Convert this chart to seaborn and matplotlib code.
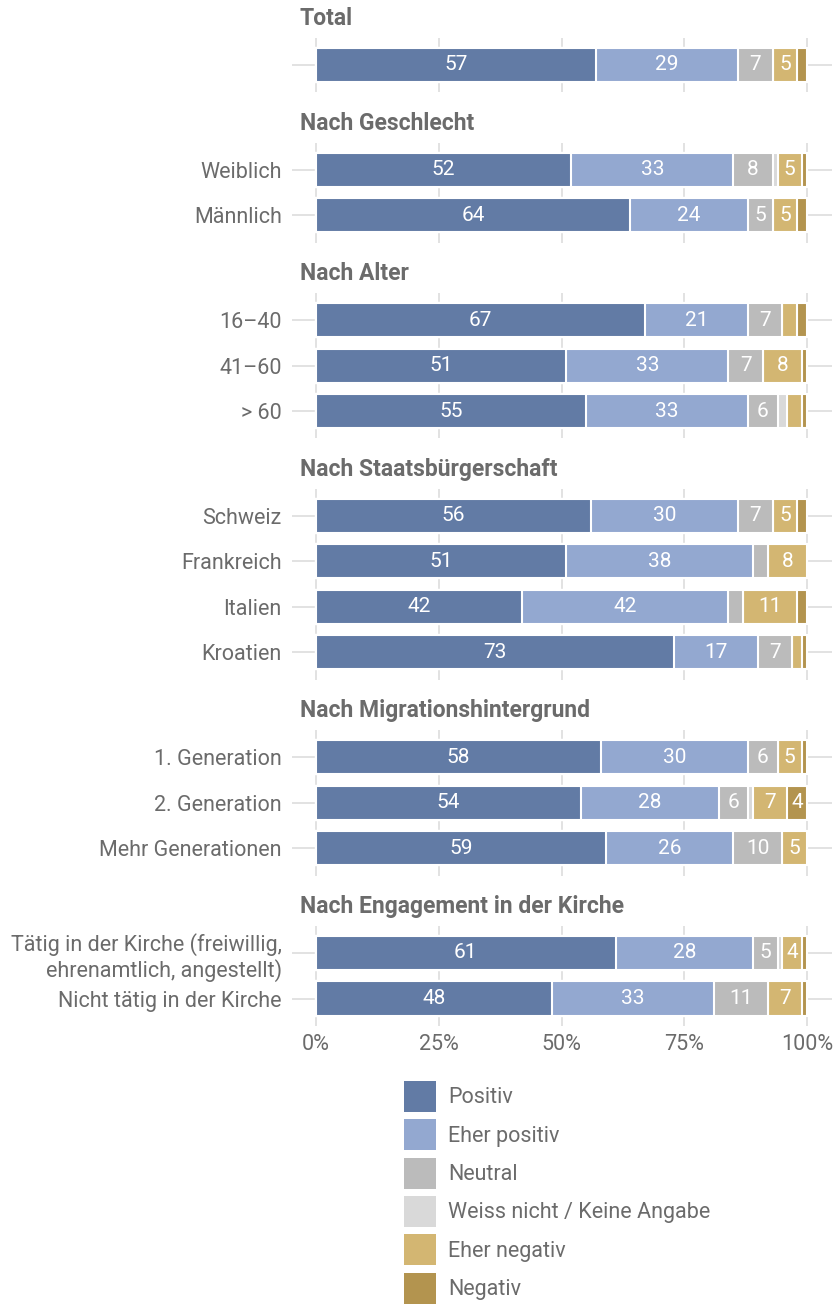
import numpy as np
import pandas as pd
import matplotlib
matplotlib.use("Agg")
import matplotlib.pyplot as plt
from matplotlib.patches import Patch
import seaborn as sns

# --- data -------------------------------------------------------------
group_titles = ["Total", "Nach Geschlecht", "Nach Alter", "Nach Staatsbürgerschaft",
                "Nach Migrationshintergrund", "Nach Engagement in der Kirche"]
group_sizes = [1, 2, 3, 4, 3, 2]

rows = ["Total", "Weiblich", "Männlich", "16–40", "41–60", "> 60",
        "Schweiz", "Frankreich", "Italien", "Kroatien",
        "1. Generation", "2. Generation", "Mehr Generationen",
        "Tätig in der Kirche (freiwillig,\nehrenamtlich, angestellt)",
        "Nicht tätig in der Kirche"]

answers = ["Positiv", "Eher positiv", "Neutral", "Weiss nicht / Keine Angabe",
           "Eher negativ", "Negativ"]

positiv      = [57, 52, 64, 67, 51, 55, 56, 51, 42, 73, 58, 54, 59, 61, 48]
eher_positiv = [29, 33, 24, 21, 33, 33, 30, 38, 42, 17, 30, 28, 26, 28, 33]
neutral      = [7, 8, 5, 7, 7, 6, 7, 3, 3, 7, 6, 6, 10, 5, 11]
weiss_nicht  = [0, 1, 0, 0, 0, 2, 0, 0, 0, 0, 0, 1, 0, 1, 0]
eher_negativ = [5, 5, 5, 3, 8, 3, 5, 8, 11, 2, 5, 7, 5, 4, 7]
negativ      = [2, 1, 2, 2, 1, 1, 2, 0, 2, 1, 1, 4, 0, 1, 1]

colors = ["#627ba5", "#93a8d0", "#bbbbbb", "#d9d9d9", "#d3b672", "#b3944f"]

df = pd.DataFrame({"row": rows, "Positiv": positiv, "Eher positiv": eher_positiv,
                   "Neutral": neutral, "Weiss nicht / Keine Angabe": weiss_nicht,
                   "Eher negativ": eher_negativ, "Negativ": negativ})
df["group"] = np.repeat(group_titles, group_sizes)

# --- style ------------------------------------------------------------
sns.set_theme(style="white")
plt.rcParams["font.family"] = ["Roboto", "DejaVu Sans"]
txt_col = "#6b6b6b"
grid_col = "#dddddd"
lab_size = 15.5

W, H = 839, 1304
fig = plt.figure(figsize=(W / 100, H / 100), dpi=100)

unit = 45.5      # px per bar row
gap = 50.2       # px between panels
left_px, right_px = 291.5, 831.5
top = 37.7

for gi, title in enumerate(group_titles):
    sub = df[df["group"] == title].reset_index(drop=True)
    n = len(sub)
    h = (n + 0.2) * unit
    ax = fig.add_axes([left_px / W, 1 - (top + h) / H, (right_px - left_px) / W, h / H])

    cum = sub[answers].cumsum(axis=1)
    # draw longest cumulative bar first, shorter ones on top
    for k in range(len(answers) - 1, -1, -1):
        sns.barplot(x=cum[answers[k]], y=sub["row"], order=list(sub["row"]), orient="h",
                    color=colors[k], saturation=1, edgecolor="white", linewidth=1.5,
                    width=0.75, errorbar=None, ax=ax)

    # value labels
    for i in range(n):
        start = 0
        for k, a in enumerate(answers):
            v = sub.loc[i, a]
            if v >= 3.5:
                ax.text(start + v / 2, i, f"{v:.0f}", ha="center", va="center",
                        color="white", fontsize=15)
            start += v

    ax.set_xlim(-5, 105)
    ax.set_ylim(n - 1 + 0.6, -0.6)
    ax.set_xlabel("")
    ax.set_ylabel("")
    for s in ax.spines.values():
        s.set_visible(False)
    ax.set_axisbelow(True)
    ax.grid(True, color=grid_col, linewidth=1.2)
    ax.set_xticks([0, 25, 50, 75, 100])
    ax.set_xticklabels([f"{t}%" for t in [0, 25, 50, 75, 100]])
    ax.tick_params(axis="both", length=0, labelsize=lab_size, labelcolor=txt_col)
    ax.tick_params(axis="y", pad=7)
    ax.tick_params(axis="x", pad=6)
    if title == "Total":
        ax.set_yticklabels([""])
    if gi < len(group_titles) - 1:
        ax.tick_params(axis="x", labelbottom=False)

    fig.text(300 / W, 1 - (top - 19) / H, title, ha="left", va="center",
             fontsize=16.5, fontweight="bold", color=txt_col)

    top += h + gap

# legend
handles = [Patch(facecolor=c, edgecolor="none") for c in colors]
fs = lab_size * 100 / 72   # font size in px
key_h, key_w = 31, 32
hh = (key_h / fs - 0.245) / 0.65
fig.legend(handles, answers, loc="upper left", bbox_to_anchor=(404 / W, 1 - 1081 / H),
           frameon=False, fontsize=lab_size, labelcolor=txt_col, borderpad=0, borderaxespad=0,
           handlelength=key_w / fs, handleheight=hh, labelspacing=(38.3 - key_h) / fs,
           handletextpad=12 / fs)

fig.savefig("out.png", dpi=100)
